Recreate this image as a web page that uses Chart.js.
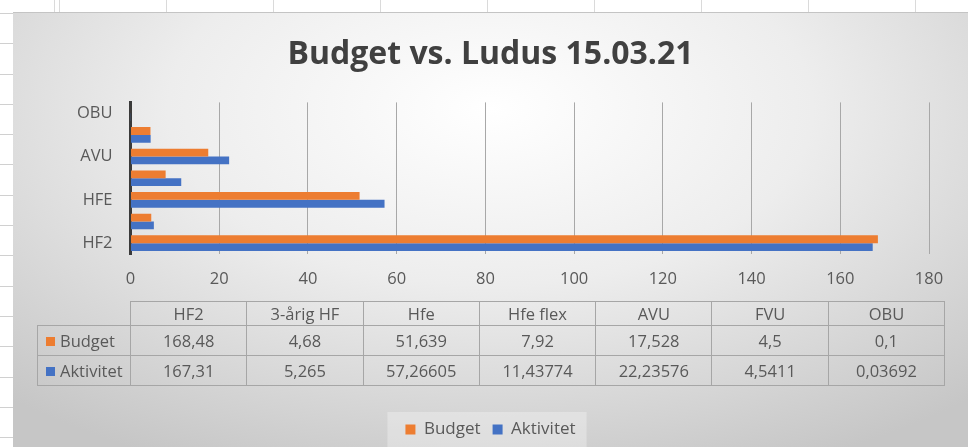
<!DOCTYPE html>
<html>
<head>
<meta charset="utf-8">
<script src="https://cdn.jsdelivr.net/npm/chart.js@4"></script>
<style>
  html, body { margin: 0; padding: 0; }
  body {
    width: 968px; height: 447px; overflow: hidden; position: relative;
    background-color: #fff;
    background-image:
      repeating-linear-gradient(90deg, #dadada 0 1px, transparent 1px 107px),
      repeating-linear-gradient(180deg, #d0d0d0 0 1px, transparent 1px 30.3px);
    background-position: 59px 0, 0 13px;
    font-family: 'Open Sans', sans-serif;
  }
  #box {
    position: absolute; left: 13px; top: 12px; width: 955px; height: 435px;
    border-top: 1px solid #c4c4c4;
    background: radial-gradient(ellipse 75% 90% at 50% 22%, #ffffff 0%, #ededed 45%, #c6c6c6 100%);
  }
  #chartWrap { position: absolute; left: 0; top: 0; width: 955px; height: 435px; }
  #dataTable {
    position: absolute; left: 24px; top: 288px;
    border-collapse: collapse; table-layout: fixed;
    color: #595959; font-size: 16.5px;
  }
  #dataTable td { border: 1.5px solid #a6a6a6; padding: 0; text-align: center; white-space: nowrap; }
  #dataTable tr.head td { height: 20px; }
  #dataTable tr.row td { height: 29px; }
  #dataTable td.corner { border-top: none; border-left: none; }
  #dataTable td.name { text-align: left; padding-left: 8px; }
  .key { display: inline-block; width: 9px; height: 9px; margin-right: 5px; vertical-align: 1px; }
</style>
</head>
<body>
<div id="box">
  <div id="chartWrap"><canvas id="budgetChart"></canvas></div>
  <table id="dataTable"></table>
</div>
<script>
// Categories and values
const categories = ['HF2', '3-årig HF', 'Hfe', 'Hfe flex', 'AVU', 'FVU', 'OBU'];
const axisLabels = ['HF2', '', 'HFE', '', 'AVU', '', 'OBU'];
const budget = [168.48, 4.68, 51.639, 7.92, 17.528, 4.5, 0.1];
const aktivitet = [167.31, 5.265, 57.26605, 11.43774, 22.23576, 4.5411, 0.03692];
const xMin = 0;
const xMax = 180;
const xStep = 20;

const orange = '#ED7D31';
const blue = '#4472C4';
const textColor = '#595959';

// Build the data table under the chart
const table = document.getElementById('dataTable');
const fmt = (v) => String(v).replace('.', ',');
let html = '<colgroup><col style="width:93px">' +
  categories.map(() => '<col style="width:116.3px">').join('') + '</colgroup>';
html += '<tr class="head"><td class="corner"></td>' +
  categories.map((c) => `<td>${c}</td>`).join('') + '</tr>';
html += `<tr class="row"><td class="name"><span class="key" style="background:${orange}"></span>Budget</td>` +
  budget.map((v) => `<td>${fmt(v)}</td>`).join('') + '</tr>';
html += `<tr class="row"><td class="name"><span class="key" style="background:${blue}"></span>Aktivitet</td>` +
  aktivitet.map((v) => `<td>${fmt(v)}</td>`).join('') + '</tr>';
table.innerHTML = html;

// Lighter patch behind the legend items
const legendPatch = {
  id: 'legendPatch',
  beforeDraw: (chart) => {
    const boxes = chart.legend && chart.legend.legendHitBoxes;
    if (!boxes || !boxes.length) return;
    const left = Math.min(...boxes.map((b) => b.left)) - 18;
    const right = Math.max(...boxes.map((b) => b.left + b.width)) + 11;
    const ctx = chart.ctx;
    ctx.save();
    ctx.fillStyle = 'rgba(255,255,255,0.3)';
    ctx.fillRect(left, boxes[0].top - 9, right - left, 40);
    ctx.restore();
  },
};

const ctx = document.getElementById('budgetChart').getContext('2d');
const budgetChart = new Chart(ctx, {
  type: 'bar',
  data: {
    labels: categories,
    datasets: [
      {
        label: 'Budget',
        data: budget,
        backgroundColor: orange,
        borderWidth: 0,
        categoryPercentage: 0.72,
        barPercentage: 1.0,
      },
      {
        label: 'Aktivitet',
        data: aktivitet,
        backgroundColor: blue,
        borderWidth: 0,
        categoryPercentage: 0.72,
        barPercentage: 1.0,
      },
    ],
  },
  plugins: [legendPatch],
  options: {
    indexAxis: 'y',
    responsive: true,
    maintainAspectRatio: false,
    animation: false,
    layout: {
      padding: 0,
    },
    scales: {
      x: {
        min: xMin,
        max: xMax,
        ticks: {
          stepSize: xStep,
          color: textColor,
          padding: 15,
          font: { family: 'Open Sans', size: 16.5 },
        },
        grid: {
          color: '#a8a8a8',
          lineWidth: 1,
          drawTicks: false,
        },
        border: { display: false },
        afterFit: (scale) => {
          scale.height = 155;
        },
      },
      y: {
        reverse: true,
        offset: true,
        ticks: {
          autoSkip: false,
          color: textColor,
          padding: 18,
          font: { family: 'Open Sans', size: 16.5 },
          callback: (value, index) => axisLabels[index],
        },
        grid: { display: false, drawTicks: false },
        border: { display: true, color: '#3a3a3a', width: 3 },
        afterFit: (scale) => {
          scale.width = 117.5;
        },
      },
      // empty right-hand box so the plot ends at 180 while the title stays centred
      yRight: {
        type: 'category',
        position: 'right',
        grid: { display: false, drawTicks: false },
        border: { display: false },
        ticks: { display: false },
        afterFit: (scale) => {
          scale.width = 39;
        },
      },
    },
    plugins: {
      title: {
        display: true,
        text: 'Budget vs. Ludus 15.03.21',
        color: '#404040',
        font: { family: 'Open Sans', size: 32, weight: 'bold' },
        padding: { top: 23, bottom: 28 },
      },
      legend: {
        position: 'bottom',
        labels: {
          boxWidth: 10,
          boxHeight: 10,
          padding: 12,
          color: textColor,
          font: { family: 'Open Sans', size: 17 },
        },
      },
      tooltip: { enabled: false },
    },
  },
});
</script>
</body>
</html>
